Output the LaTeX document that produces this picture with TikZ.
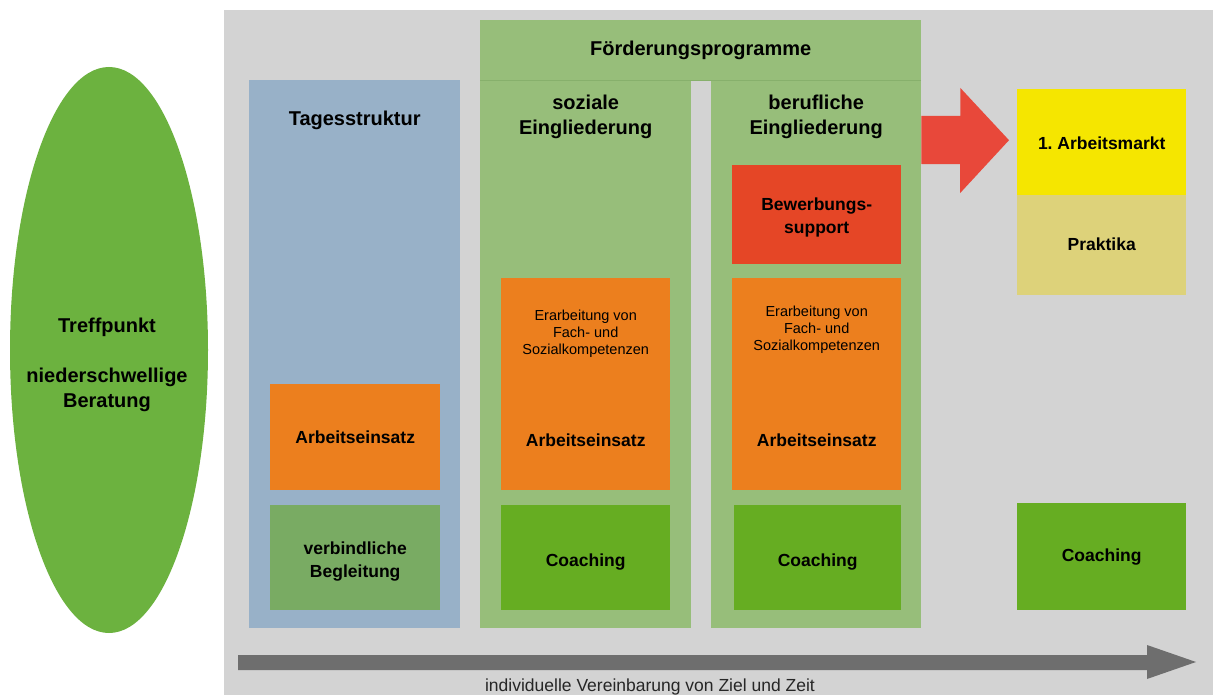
\documentclass[tikz,border=0pt]{standalone}
\usepackage{fontspec}
\setmainfont{Liberation Sans}
\usetikzlibrary{calc,shapes.geometric}
\definecolor{bggray}{RGB}{211,211,211}
\definecolor{ellgreen}{RGB}{108,178,63}
\definecolor{tagblue}{RGB}{152,177,200}
\definecolor{colgreen}{RGB}{151,190,122}
\definecolor{linegreen}{RGB}{135,176,108}
\definecolor{orangebox}{RGB}{236,127,30}
\definecolor{redbox}{RGB}{229,70,38}
\definecolor{redarrow}{RGB}{232,72,58}
\definecolor{yellowbox}{RGB}{245,230,0}
\definecolor{praktbox}{RGB}{221,210,122}
\definecolor{coachgreen}{RGB}{102,173,34}
\definecolor{beglgreen}{RGB}{121,171,99}
\definecolor{arrowgray}{RGB}{110,110,110}
\begin{document}
\begin{tikzpicture}[x=1pt,y=-1pt,
  box/.style={rectangle, draw=none, inner sep=0pt, anchor=north west, align=center, text=black},
  head/.style={font=\fontsize{20}{25}\selectfont\bfseries, align=center, inner sep=0pt},
  lab/.style={font=\fontsize{17.5}{23.5}\selectfont\bfseries, align=center, inner sep=0pt},
  small/.style={font=\fontsize{14.5}{17}\selectfont, align=center, inner sep=0pt}]
\useasboundingbox (0,0) rectangle (1213,695);
\fill[white] (0,0) rectangle (1213,695);
\node[box, fill=bggray, minimum width=989pt, minimum height=685pt] (bg) at (224,10) {};
% ellipse
\node[ellipse, fill=ellgreen, minimum width=198pt, minimum height=566pt, inner sep=0pt] (treff) at (109,350) {};
\node[head] (trefftext) at (107,365) {Treffpunkt\\[25pt]niederschwellige\\Beratung};
% columns
\node[box, fill=tagblue, minimum width=211pt, minimum height=548pt] (tages) at (249,80) {};
\node[box, fill=colgreen, minimum width=441pt, minimum height=60pt] (foerd) at (480,20) {};
\node[box, fill=colgreen, minimum width=211pt, minimum height=548pt] (sozial) at (480,80) {};
\node[box, fill=colgreen, minimum width=210pt, minimum height=548pt] (beruf) at (711,80) {};
\draw[linegreen, line width=0.8pt] (foerd.south west) -- (foerd.south east);
\node[head] (foerdT) at (foerd.center) {Förderungsprogramme};
\node[head] (tagesT) at ($(tages.north)+(0,40)$) {Tagesstruktur};
\node[head] (sozialT) at ($(sozial.north)+(0,37)$) {soziale\\Eingliederung};
\node[head] (berufT) at ($(beruf.north)+(0,37)$) {berufliche\\Eingliederung};
% inner boxes
\node[box, fill=orangebox, minimum width=170pt, minimum height=106pt] (tagesArb) at (270,384) {};
\node[lab] (tagesArbT) at (tagesArb.center) {Arbeitseinsatz};
\node[box, fill=beglgreen, minimum width=170pt, minimum height=105pt] (tagesBeg) at (270,505) {};
\node[lab] (tagesBegT) at ($(tagesBeg.center)+(0,4)$) {verbindliche\\Begleitung};
\node[box, fill=orangebox, minimum width=169pt, minimum height=212pt] (sozOr) at (501,278) {};
\node[small] (sozOrT) at ($(sozOr.north)+(0,56)$) {Erarbeitung von\\Fach- und\\Sozialkompetenzen};
\node[lab] (sozOrA) at ($(sozOr.north)+(0,162)$) {Arbeitseinsatz};
\node[box, fill=coachgreen, minimum width=169pt, minimum height=105pt] (sozCoach) at (501,505) {};
\node[lab] (sozCoachT) at ($(sozCoach.center)+(0,4)$) {Coaching};
\node[box, fill=redbox, minimum width=169pt, minimum height=99pt] (berBew) at (732,165) {};
\node[lab] (berBewT) at ($(berBew.center)+(0,3)$) {Bewerbungs-\\support};
\node[box, fill=orangebox, minimum width=169pt, minimum height=212pt] (berOr) at (732,278) {};
\node[small] (berOrT) at ($(berOr.north)+(0,52)$) {Erarbeitung von\\Fach- und\\Sozialkompetenzen};
\node[lab] (berOrA) at ($(berOr.north)+(0,162)$) {Arbeitseinsatz};
\node[box, fill=coachgreen, minimum width=167pt, minimum height=105pt] (berCoach) at (734,505) {};
\node[lab] (berCoachT) at ($(berCoach.center)+(0,4)$) {Coaching};
% right column
\node[box, fill=yellowbox, minimum width=169pt, minimum height=106pt] (markt) at (1017,89) {};
\node[lab] (marktT) at ($(markt.center)+(0,1)$) {1.\ Arbeitsmarkt};
\node[box, fill=praktbox, minimum width=169pt, minimum height=100pt] (prakt) at (1017,195) {};
\node[lab] (praktT) at ($(prakt.center)+(0,-1)$) {Praktika};
\node[box, fill=coachgreen, minimum width=169pt, minimum height=107pt] (rCoach) at (1017,503) {};
\node[lab] (rCoachT) at (rCoach.center) {Coaching};
% red block arrow from berufliche Eingliederung to 1. Arbeitsmarkt
\coordinate (rA) at (beruf.north east |- 0,116);
\coordinate (rTip) at ($(markt.west)+(-8,-2)$);
\fill[redarrow] (rA) -- ++(39,0) -- ++(0,-28) -- (rTip) -- ($(rTip)+(-49,53)$) -- ++(0,-29) -- ($(rA)+(0,48)$) -- cycle;
% gray timeline arrow
\coordinate (gStart) at (238,655);
\coordinate (gTip) at (1196,662);
\fill[arrowgray] (gStart) -- (1147,655) -- (1147,645) -- (gTip) -- (1147,679) -- (1147,670) -- (238,670) -- cycle;
\node[inner sep=0pt, font=\fontsize{17.5}{20}\selectfont, text=black!85] (zeit) at (650,687) {individuelle Vereinbarung von Ziel und Zeit};
\end{tikzpicture}
\end{document}
